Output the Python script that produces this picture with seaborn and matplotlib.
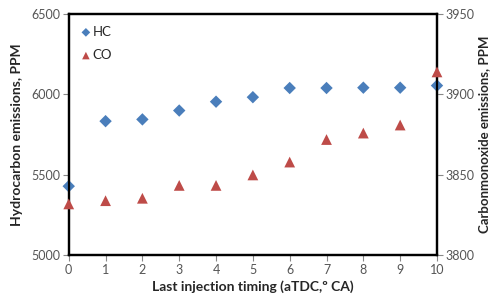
import numpy as np
import pandas as pd
import matplotlib.pyplot as plt
import seaborn as sns

timing = [0, 1, 2, 3, 4, 5, 6, 7, 8, 9, 10]
hc = [5430, 5834, 5845, 5900, 5955, 5983, 6040, 6040, 6042, 6042, 6055]
co = [3832, 3834, 3835.5, 3843.5, 3843.5, 3850, 3858, 3872, 3876, 3881, 3914]

sns.set_style('white')
plt.rcParams['font.family'] = ['Lato', 'DejaVu Sans']

df = pd.DataFrame({'timing': timing, 'HC': hc, 'CO': co})

fig, ax = plt.subplots(figsize=(4.91, 2.97), dpi=100)
ax2 = ax.twinx()

sns.scatterplot(x='timing', y='HC', data=df, ax=ax, marker='D', s=40,
                color='#4A7EBB', edgecolor='none', label='HC', clip_on=False, zorder=5)
sns.scatterplot(x='timing', y='CO', data=df, ax=ax2, marker='^', s=60,
                color='#BE4B48', edgecolor='none', label='CO', clip_on=False, zorder=5)

ax.set_xlim(0, 10)
ax.set_ylim(5000, 6500)
ax2.set_ylim(3800, 3950)
ax.set_xticks(range(0, 11))
ax.set_yticks([5000, 5500, 6000, 6500])
ax2.set_yticks([3800, 3850, 3900, 3950])

ax.set_xlabel('Last injection timing (aTDC,º CA)', fontsize=10, fontweight='bold', labelpad=3)
ax.set_ylabel('Hydrocarbon emissions, PPM', fontsize=10, fontweight='bold', labelpad=6)
ax2.set_ylabel('Carbonmonoxide emissions, PPM', fontsize=9.5, fontweight='bold', labelpad=3)

for a in (ax, ax2):
    a.tick_params(labelsize=9, labelcolor='#555555', length=4, width=0.8,
                  color='#888888', direction='out', pad=2)
    for sp in a.spines.values():
        sp.set_color('black')
        sp.set_linewidth(1.6)
ax.tick_params(axis='x', bottom=True)
ax.tick_params(axis='y', left=True)
ax2.tick_params(axis='y', right=True)

h1, l1 = ax.get_legend_handles_labels()
h2, l2 = ax2.get_legend_handles_labels()
ax2.get_legend().remove()
ax.legend(h1 + h2, l1 + l2, loc='upper left', frameon=False, fontsize=9.5,
          markerscale=0.7, handlelength=0.8, handletextpad=0.1,
          labelspacing=0.85, borderaxespad=0.4, borderpad=0.5)

fig.subplots_adjust(left=0.14, right=0.89, top=0.953, bottom=0.14)
fig.savefig('out.png', dpi=100)
